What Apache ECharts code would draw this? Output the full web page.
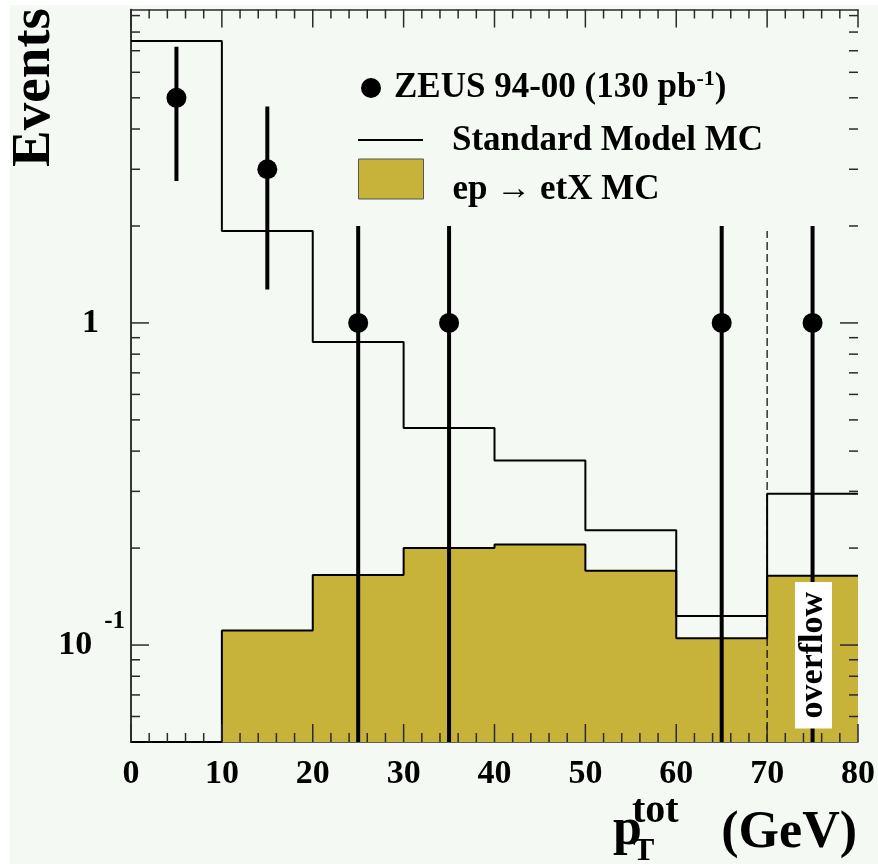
<!DOCTYPE html>
<html>
<head>
<meta charset="utf-8">
<script src="https://cdn.jsdelivr.net/npm/echarts@6.0.0/dist/echarts.min.js"></script>
<style>
  html, body { margin: 0; padding: 0; background: #fff; }
  #chart { position: absolute; left: 10px; top: 5px; width: 868px; height: 859px; background: #f4f9f4; }
</style>
</head>
<body>
<div id="chart"></div>
<script>
// histogram bins in p_T^tot (GeV)
const binEdges = [0, 10, 20, 30, 40, 50, 60, 70, 80];
const smMC = [7.5, 1.93, 0.873, 0.472, 0.374, 0.227, 0.123, 0.295];
const signalMC = [0, 0.111, 0.165, 0.2, 0.205, 0.17, 0.105, 0.164];

// ZEUS data points with error bar ends
const dataX = [5, 15, 25, 35, 65, 75];
const dataY = [5, 3, 1, 1, 1, 1];
const dataLo = [2.76, 1.27, 0, 0, 0, 0];
const dataHi = [7.2, 4.7, 2, 2, 2, 2];

// axes
const X_MIN = 0, X_MAX = 80;
const Y_MIN = 0.05, Y_MAX = 9.4;
const xMajorTicks = [0, 10, 20, 30, 40, 50, 60, 70, 80];
const xMinorTicks = [2, 4, 6, 8, 12, 14, 16, 18, 22, 24, 26, 28, 32, 34, 36, 38, 42, 44, 46, 48,
  52, 54, 56, 58, 62, 64, 66, 68, 72, 74, 76, 78];
const yMajorTicks = [0.1, 1];
const yMinorTicks = [0.06, 0.07, 0.08, 0.09, 0.2, 0.3, 0.4, 0.5, 0.6, 0.7, 0.8, 0.9, 2, 3, 4, 5, 6, 7, 8, 9];

// overflow marker
const overflowEdge = [70, 1.93];
const overflowLabel = [75.1, 0.093];

const NAME_DATA = 'ZEUS 94-00 (130 pb-1)';
const NAME_SM = 'Standard Model MC';
const NAME_SIG = 'ep \u2192 etX MC';

const FONT = '"Liberation Serif", "DejaVu Serif", serif';
const FILL = '#c8b33a';
const FRAME = '#2a2a2a';

function stepData(vals) {
  const pts = vals.map((v, i) => [binEdges[i], Math.max(v, Y_MIN)]);
  pts.push([binEdges[binEdges.length - 1], Math.max(vals[vals.length - 1], Y_MIN)]);
  return pts;
}

// tick items: [x, y, vertical axis?, major]; drawn on both sides of the frame
const tickData = [];
yMajorTicks.forEach(v => tickData.push([X_MIN, v, 1, 1]));
yMinorTicks.forEach(v => tickData.push([X_MIN, v, 1, 0]));
xMajorTicks.forEach(v => tickData.push([v, Y_MAX, 0, 1]));
xMinorTicks.forEach(v => tickData.push([v, Y_MAX, 0, 0]));

const chart = echarts.init(document.getElementById('chart'));

const xAxisBase = {
  type: 'value', min: X_MIN, max: X_MAX, interval: 10,
  splitLine: { show: false },
  axisTick: { show: false },
  axisLine: { show: true, lineStyle: { color: FRAME, width: 1.5 } }
};

const yAxisBase = {
  type: 'log', logBase: 10, min: Y_MIN, max: Y_MAX,
  splitLine: { show: false },
  axisTick: { show: false },
  axisLine: { show: true, lineStyle: { color: FRAME, width: 1.5 } }
};

const legendText = () => ({
  fontFamily: FONT, fontWeight: 'bold', fontSize: 35, color: '#000', lineHeight: 40,
  rich: {
    sup: { fontFamily: FONT, fontWeight: 'bold', fontSize: 22, lineHeight: 22, verticalAlign: 'top', color: '#000' }
  }
});

chart.setOption({
  animation: false,
  grid: { left: 121, right: 18, top: 4.5, bottom: 122 },
  xAxis: [
    Object.assign({}, xAxisBase, {
      position: 'bottom',
      axisLabel: { margin: 15, color: '#000', fontFamily: FONT, fontWeight: 'bold', fontSize: 34, lineHeight: 34 }
    }),
    Object.assign({}, xAxisBase, { position: 'top', axisLabel: { show: false } })
  ],
  yAxis: [
    Object.assign({}, yAxisBase, {
      position: 'left',
      axisLabel: {
        margin: 6, color: '#000',
        formatter: v => {
          const l = Math.log10(v), e = Math.round(l);
          if (Math.abs(l - e) > 1e-6) return '';
          if (e === 0) return '{one|1}';
          return '{n|10}{s|' + e + '}';
        },
        rich: {
          one: { fontFamily: FONT, fontWeight: 'bold', fontSize: 34, lineHeight: 34, padding: [0, 26, 0, 0], color: '#000' },
          n: { fontFamily: FONT, fontWeight: 'bold', fontSize: 34, lineHeight: 72, color: '#000' },
          s: { fontFamily: FONT, fontWeight: 'bold', fontSize: 25, lineHeight: 24, padding: [0, 0, 0, 12], verticalAlign: 'top', color: '#000' }
        }
      }
    }),
    Object.assign({}, yAxisBase, { position: 'right', axisLabel: { show: false } })
  ],
  legend: [
    {
      selectedMode: false, padding: 0, left: 351, top: 63,
      itemWidth: 20, itemHeight: 20,
      data: [{ name: NAME_DATA, icon: 'circle', itemStyle: { color: '#000', opacity: 1 } }],
      formatter: () => 'ZEUS 94-00 (130 pb{sup|-1})',
      textStyle: Object.assign(legendText(), { padding: [0, 0, 0, 8] })
    },
    {
      selectedMode: false, padding: 0, left: 348, top: 114,
      itemWidth: 65, itemHeight: 2,
      data: [{ name: NAME_SM, icon: 'rect', itemStyle: { color: '#000', borderWidth: 0 } }],
      textStyle: Object.assign(legendText(), { padding: [2, 0, 0, 24] })
    },
    {
      selectedMode: false, padding: 0, left: 348, top: 143,
      itemWidth: 65, itemHeight: 40,
      data: [{ name: NAME_SIG, icon: 'rect', itemStyle: { color: FILL, borderColor: '#555', borderWidth: 1 } }],
      textStyle: Object.assign(legendText(), { padding: [22, 0, 0, 24] })
    }
  ],
  graphic: [
    { type: 'text', x: 25, y: 82.5, rotation: Math.PI / 2,
      style: { text: 'Events', fontFamily: FONT, fontWeight: 'bold', fontSize: 55, fill: '#000', align: 'center', verticalAlign: 'middle' } },
    { type: 'text', x: 603, y: 826,
      style: { text: 'p', fontFamily: FONT, fontWeight: 'bold', fontSize: 52, fill: '#000', align: 'left', verticalAlign: 'middle' } },
    { type: 'text', x: 623, y: 847,
      style: { text: 'T', fontFamily: FONT, fontWeight: 'bold', fontSize: 32, fill: '#000', align: 'left', verticalAlign: 'middle' } },
    { type: 'text', x: 622, y: 807,
      style: { text: 'tot', fontFamily: FONT, fontWeight: 'bold', fontSize: 40, fill: '#000', align: 'left', verticalAlign: 'middle' } },
    { type: 'text', x: 847, y: 829,
      style: { text: '(GeV)', fontFamily: FONT, fontWeight: 'bold', fontSize: 52, fill: '#000', align: 'right', verticalAlign: 'middle' } }
  ],
  series: [
    {
      name: NAME_SIG, type: 'line', step: 'end', showSymbol: false, z: 2,
      data: stepData(signalMC),
      itemStyle: { color: FILL },
      lineStyle: { color: '#000', width: 2 },
      areaStyle: { color: FILL, opacity: 1, origin: 'start' }
    },
    {
      name: NAME_SM, type: 'line', step: 'end', showSymbol: false, z: 3,
      data: stepData(smMC),
      itemStyle: { color: '#000' },
      lineStyle: { color: '#000', width: 2 }
    },
    {
      type: 'line', showSymbol: false, z: 4,
      data: [[overflowEdge[0], Y_MIN], overflowEdge],
      lineStyle: { color: '#000', width: 1.2, type: [8, 4] }
    },
    {
      type: 'custom', z: 5, silent: true,
      data: tickData,
      renderItem: (params, api) => {
        const cs = params.coordSys;
        const p = api.coord([api.value(0), api.value(1)]);
        const len = api.value(3) ? 18 : 9;
        const style = { stroke: FRAME, lineWidth: 1.5 };
        let a, b;
        if (api.value(2)) {
          a = { x1: cs.x, y1: p[1], x2: cs.x + len, y2: p[1] };
          b = { x1: cs.x + cs.width, y1: p[1], x2: cs.x + cs.width - len, y2: p[1] };
        } else {
          a = { x1: p[0], y1: cs.y, x2: p[0], y2: cs.y + len };
          b = { x1: p[0], y1: cs.y + cs.height, x2: p[0], y2: cs.y + cs.height - len };
        }
        return { type: 'group', children: [
          { type: 'line', shape: a, style: style },
          { type: 'line', shape: b, style: style }
        ] };
      }
    },
    {
      type: 'custom', z: 6, silent: true,
      data: dataX.map((x, i) => [x, dataLo[i], dataHi[i]]),
      renderItem: (params, api) => {
        const x = api.value(0);
        const lo = Math.max(api.value(1), Y_MIN), hi = api.value(2);
        const p1 = api.coord([x, lo]), p2 = api.coord([x, hi]);
        return { type: 'line', shape: { x1: p1[0], y1: p1[1], x2: p2[0], y2: p2[1] },
          style: { stroke: '#000', lineWidth: 4 } };
      }
    },
    {
      name: NAME_DATA, type: 'scatter', z: 7, symbol: 'circle', symbolSize: 20,
      data: dataX.map((x, i) => [x, dataY[i]]),
      itemStyle: { color: '#000', opacity: 1 }
    },
    {
      type: 'custom', z: 8, silent: true,
      data: [overflowLabel],
      renderItem: (params, api) => {
        const p = api.coord([api.value(0), api.value(1)]);
        return { type: 'text', x: p[0], y: p[1], rotation: Math.PI / 2,
          style: { text: 'overflow', fontFamily: FONT, fontWeight: 'bold', fontSize: 34, lineHeight: 29,
            fill: '#000', align: 'center', verticalAlign: 'middle', backgroundColor: '#fff', padding: [4, 10, 4, 10] } };
      }
    }
  ]
});
</script>
</body>
</html>
